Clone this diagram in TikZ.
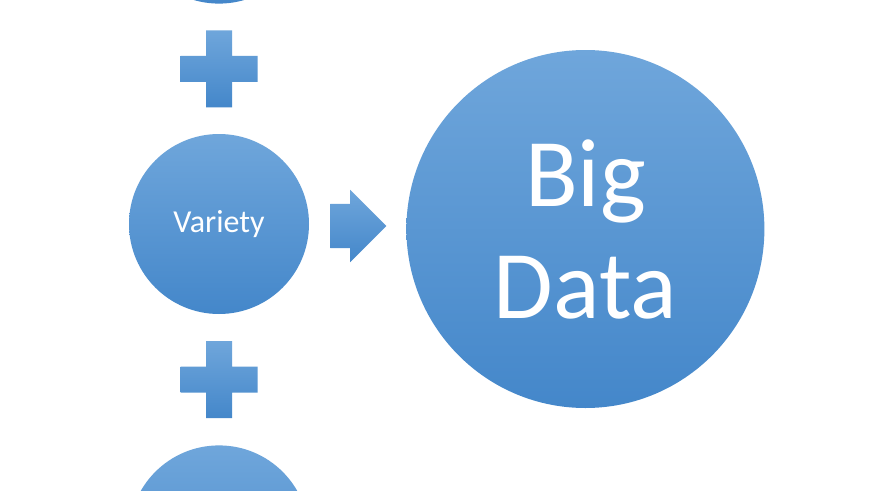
\documentclass[tikz,border=0pt]{standalone}
\usepackage{fontspec}
\setmainfont{Carlito}
\usetikzlibrary{positioning,calc,shapes.arrows}

\definecolor{bluetop}{HTML}{6FA6DB}
\definecolor{bluebot}{HTML}{4487CA}

\tikzset{
  bubble/.style={circle,inner sep=0pt,minimum size=180pt,
    top color=bluetop,bottom color=bluebot,text=white,
    font=\fontsize{32}{38}\selectfont},
  bigbubble/.style={bubble,minimum size=358pt,align=center,
    font=\fontsize{97}{112}\selectfont},
  flowarrow/.style={single arrow,inner xsep=0pt,inner ysep=22pt,
    minimum height=56pt,single arrow head extend=14pt,
    top color=bluetop,bottom color=bluebot},
  plussign/.pic={
    \path[top color=bluetop,bottom color=bluebot]
      (-38.5,-13) -- (-13,-13) -- (-13,-38.5) -- (13,-38.5) -- (13,-13)
      -- (38.5,-13) -- (38.5,13) -- (13,13) -- (13,38.5) -- (-13,38.5)
      -- (-13,13) -- (-38.5,13) -- cycle;
  }
}

\begin{document}
\begin{tikzpicture}[x=1pt,y=-1pt]
  \clip (0,0) rectangle (870,490);
  \fill[white] (0,0) rectangle (870,490);

  \node[bubble] (variety) at (219,224) {Variety};
  \node[bubble] (topc) [above=130pt of variety] {};
  \node[bubble] (botc) [below=131pt of variety] {};
  \node[flowarrow] (arrow) [right=21pt of variety,yshift=-2pt] {};
  \node[bigbubble] (bigdata) [right=97pt of variety,yshift=-5pt] {Big\\Data};

  \coordinate (plusA) at ($(topc.south)!0.5!(variety.north)$);
  \coordinate (plusB) at ($(variety.south)!0.5!(botc.north)$);
  \pic at (plusA) {plussign};
  \pic at (plusB) {plussign};
\end{tikzpicture}
\end{document}
